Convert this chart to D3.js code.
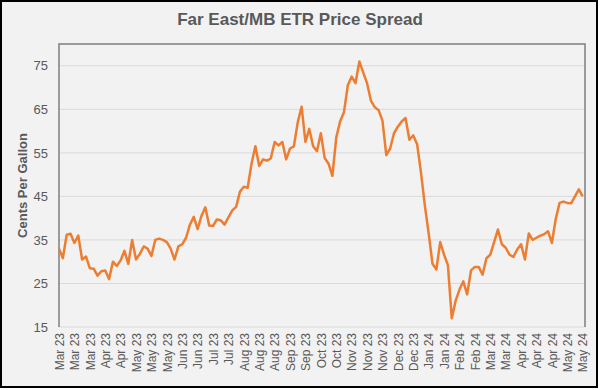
<!DOCTYPE html>
<html>
<head>
<meta charset="utf-8">
<script src="https://cdn.jsdelivr.net/npm/d3@7"></script>
<style>
  html, body { margin: 0; padding: 0; background: #ffffff; }
  svg { display: block; font-family: "Liberation Sans", Arial, sans-serif; }
</style>
</head>
<body>
<svg id="chart" width="600" height="390"></svg>
<script>
// ---- Data ----
const title = "Far East/MB ETR Price Spread";
const yTitle = "Cents Per Gallon";
const xTickLabels = ["Mar 23","Mar 23","Mar 23","Apr 23","Apr 23","May 23","May 23","May 23",
  "Jun 23","Jun 23","Jul 23","Jul 23","Aug 23","Aug 23","Aug 23","Sep 23","Sep 23",
  "Oct 23","Oct 23","Nov 23","Nov 23","Nov 23","Dec 23","Dec 23","Jan 24","Jan 24",
  "Feb 24","Feb 24","Mar 24","Mar 24","Apr 24","Apr 24","Apr 24","May 24","May 24"];
const pointsPerLabel = 4;
const yTicks = [15, 25, 35, 45, 55, 65, 75];
const yMin = 15, yMax = 80;
const spread = [
  33, 30.8, 36.2, 36.4, 34.3, 36, 30.5, 31.2, 28.5, 28.4,
  26.8, 27.8, 28, 26, 30, 29, 30.3, 32.5, 29.5, 35,
  30.5, 31.8, 33.5, 33, 31.3, 35, 35.3, 35, 34.5, 33,
  30.5, 33.5, 34, 35.5, 38.5, 40.3, 37.5, 40.5, 42.5, 38.3,
  38.2, 39.7, 39.5, 38.5, 40.2, 41.8, 42.6, 46.1, 47.2, 47,
  52.5, 56.5, 52, 53.5, 53.2, 53.7, 57.5, 56.7, 57.5, 53.5,
  56, 56.5, 62, 65.6, 57.5, 60.5, 56.5, 55.4, 59.5, 53.8,
  52.5, 49.7, 58.5, 62.2, 64.3, 70.5, 72.5, 71, 76, 73.5,
  71, 67, 65.5, 64.8, 62.4, 54.5, 56, 59.5, 61, 62.2,
  63, 58, 59, 57, 50.5, 43, 36.5, 29.5, 28.2, 34.5,
  31.6, 29.2, 17, 21, 23.6, 25.5, 22.5, 28, 28.8, 28.8,
  27, 30.8, 31.6, 34.5, 37.4, 34, 33.2, 31.6, 31.1, 32.8,
  34, 30.5, 36.5, 35, 35.5, 36, 36.3, 37, 34.3, 39.8,
  43.5, 43.8, 43.5, 43.4, 45, 46.6, 45
];

// ---- Layout ----
const W = 600, H = 390;
const plot = { left: 59, top: 44, right: 585, bottom: 327 };
const svg = d3.select("#chart");

// outer frame
svg.append("rect").attr("x", 1).attr("y", 1).attr("width", 596).attr("height", 386)
  .attr("fill", "#f2f2f2").attr("stroke", "#000").attr("stroke-width", 2);

// title
svg.append("text").attr("x", 300).attr("y", 25).attr("text-anchor", "middle")
  .attr("font-size", 17).attr("font-weight", "bold").attr("fill", "#595959").text(title);

const x = d3.scaleLinear().domain([0, 136.6]).range([plot.left, plot.right]);
const y = d3.scaleLinear().domain([yMin, yMax]).range([plot.bottom, plot.top]);

// gridlines
svg.append("g").selectAll("line").data(yTicks.slice(1)).join("line")
  .attr("x1", plot.left).attr("x2", plot.right)
  .attr("y1", d => y(d)).attr("y2", d => y(d))
  .attr("stroke", "#d9d9d9").attr("stroke-width", 1);

// plot frame
svg.append("line").attr("x1", plot.left).attr("x2", plot.right)
  .attr("y1", plot.bottom).attr("y2", plot.bottom).attr("stroke", "#d9d9d9").attr("stroke-width", 1.2);
svg.append("path")
  .attr("d", `M${plot.left},${plot.bottom}V${plot.top}H${plot.right}V${plot.bottom}`)
  .attr("fill", "none").attr("stroke", "#7f7f7f").attr("stroke-width", 1.5);

// y axis labels
const yAxis = d3.axisLeft(y).tickValues(yTicks).tickSize(0).tickPadding(11);
const gy = svg.append("g").attr("transform", `translate(${plot.left},0)`).call(yAxis);
gy.select(".domain").remove();
gy.selectAll("text").attr("font-size", 13).attr("fill", "#595959")
  .attr("font-family", "Liberation Sans, Arial, sans-serif");

// y title
svg.append("text").attr("transform", `translate(27,${(plot.top + plot.bottom) / 2}) rotate(-90)`)
  .attr("text-anchor", "middle").attr("font-size", 13).attr("font-weight", "bold")
  .attr("fill", "#595959").text(yTitle);

// x axis labels
const xTickVals = xTickLabels.map((d, i) => i * pointsPerLabel);
const xAxis = d3.axisBottom(x).tickValues(xTickVals).tickSize(0)
  .tickFormat((d, i) => xTickLabels[i]);
const gx = svg.append("g").attr("transform", `translate(0,${plot.bottom})`).call(xAxis);
gx.select(".domain").remove();
gx.selectAll("text")
  .attr("font-size", 12).attr("fill", "#595959")
  .attr("font-family", "Liberation Sans, Arial, sans-serif")
  .attr("text-anchor", "end")
  .attr("transform", "rotate(-90)")
  .attr("x", -6).attr("y", 0).attr("dy", "0.35em");

// line
const line = d3.line().x((d, i) => x(i)).y(d => y(d));
svg.append("path").datum(spread).attr("d", line)
  .attr("fill", "none").attr("stroke", "#ed7d31").attr("stroke-width", 2.5)
  .attr("stroke-linejoin", "round");
</script>
</body>
</html>
